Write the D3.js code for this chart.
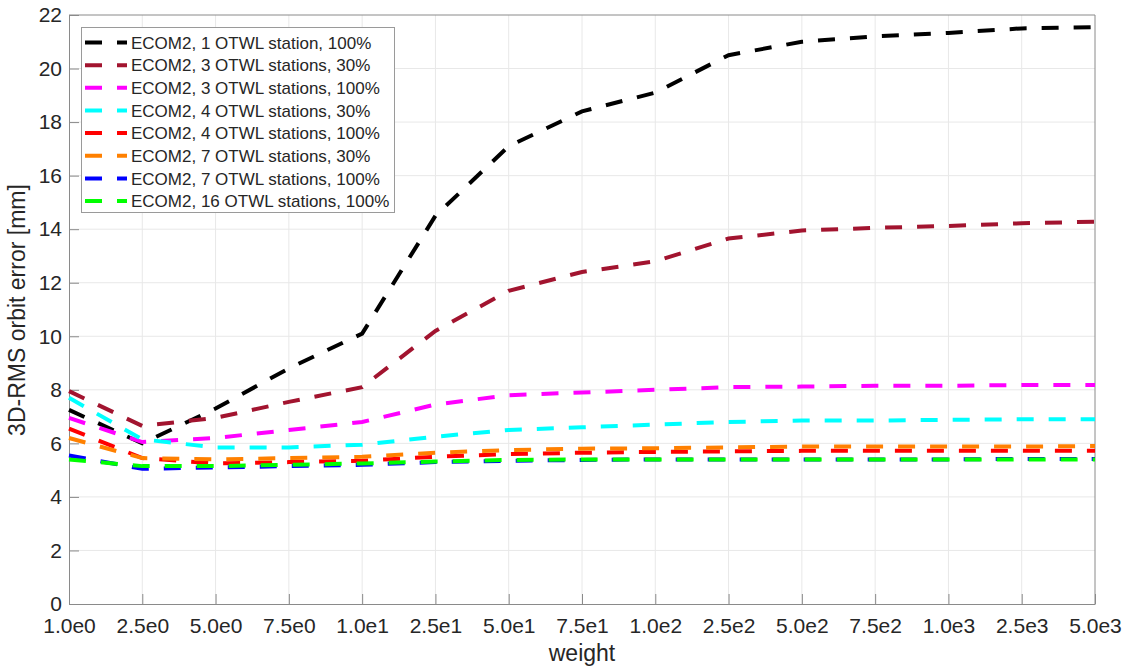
<!DOCTYPE html>
<html>
<head>
<meta charset="utf-8">
<script src="https://cdn.jsdelivr.net/npm/d3@7"></script>
<style>
  body { margin: 0; background: #fff; }
  svg { display: block; font-family: "Liberation Sans", Arial, sans-serif; }
</style>
</head>
<body>
<svg id="chart" width="1128" height="668"></svg>
<script>
// x categories (weights) and y ticks
var weights = ["1.0e0","2.5e0","5.0e0","7.5e0","1.0e1","2.5e1","5.0e1","7.5e1","1.0e2","2.5e2","5.0e2","7.5e2","1.0e3","2.5e3","5.0e3"];
var yTicks = [0,2,4,6,8,10,12,14,16,18,20,22];

// 3D-RMS orbit error [mm] per series
var st1_100  = [7.25,6.0,7.3,8.8,10.1,14.5,17.1,18.4,19.1,20.5,21.0,21.2,21.33,21.5,21.55];
var st3_30   = [7.95,6.65,6.95,7.55,8.1,10.2,11.7,12.4,12.8,13.65,13.95,14.05,14.12,14.22,14.28];
var st3_100  = [6.95,6.05,6.2,6.5,6.8,7.45,7.8,7.9,8.0,8.1,8.12,8.15,8.15,8.18,8.18];
var st4_30   = [7.7,6.15,5.85,5.85,5.95,6.25,6.5,6.6,6.7,6.8,6.85,6.85,6.88,6.9,6.9];
var st4_100  = [6.55,5.45,5.25,5.3,5.35,5.5,5.6,5.65,5.68,5.7,5.72,5.72,5.72,5.72,5.72];
var st7_30   = [6.2,5.45,5.4,5.45,5.5,5.65,5.75,5.8,5.82,5.85,5.88,5.88,5.88,5.88,5.9];
var st7_100  = [5.55,5.05,5.1,5.15,5.2,5.3,5.35,5.38,5.4,5.4,5.4,5.4,5.4,5.42,5.42];
var st16_100 = [5.4,5.15,5.15,5.2,5.25,5.32,5.38,5.4,5.4,5.4,5.4,5.4,5.4,5.4,5.4];

var seriesNames = [
  "ECOM2, 1 OTWL station, 100%",
  "ECOM2, 3 OTWL stations, 30%",
  "ECOM2, 3 OTWL stations, 100%",
  "ECOM2, 4 OTWL stations, 30%",
  "ECOM2, 4 OTWL stations, 100%",
  "ECOM2, 7 OTWL stations, 30%",
  "ECOM2, 7 OTWL stations, 100%",
  "ECOM2, 16 OTWL stations, 100%"
];
var seriesValues = [st1_100, st3_30, st3_100, st4_30, st4_100, st7_30, st7_100, st16_100];
var seriesColors = ["#000000","#a2142f","#ff00ff","#00ffff","#ff0000","#ff8000","#0000ff","#00ff00"];

var plotLeft = 69, plotRight = 1095, plotTop = 15, plotBottom = 604;
var svg = d3.select("#chart");

var x = d3.scalePoint().domain(weights).range([plotLeft, plotRight]);
var y = d3.scaleLinear().domain([0, 22]).range([plotBottom, plotTop]);

var tickColor = "#262626";
var axisColor = "#8a8a8a";
var gridColor = "#e8e8e8";

// grid
svg.append("g").selectAll("line")
  .data(weights.slice(1, -1)).enter().append("line")
  .attr("x1", function(d) { return x(d); }).attr("x2", function(d) { return x(d); })
  .attr("y1", plotTop).attr("y2", plotBottom)
  .attr("stroke", gridColor).attr("stroke-width", 1);
svg.append("g").selectAll("line")
  .data(yTicks.slice(1, -1)).enter().append("line")
  .attr("x1", plotLeft).attr("x2", plotRight)
  .attr("y1", function(d) { return y(d); }).attr("y2", function(d) { return y(d); })
  .attr("stroke", gridColor).attr("stroke-width", 1);

// axes (inward ticks, box)
var xAxis = d3.axisBottom(x).tickSizeInner(-10).tickSizeOuter(0).tickPadding(14);
var yAxis = d3.axisLeft(y).tickValues(yTicks).tickSizeInner(-10).tickSizeOuter(0).tickPadding(7);

var gx = svg.append("g").attr("transform", "translate(0," + plotBottom + ")").call(xAxis);
var gy = svg.append("g").attr("transform", "translate(" + plotLeft + ",0)").call(yAxis);
[gx, gy].forEach(function(g) {
  g.select(".domain").attr("stroke", axisColor);
  g.selectAll(".tick line").attr("stroke", axisColor);
  g.selectAll("text").attr("fill", tickColor).style("font-size", "21px")
    .style("font-family", "'Liberation Sans', Arial, sans-serif");
});

svg.append("line").attr("x1", plotLeft).attr("x2", plotRight).attr("y1", plotTop).attr("y2", plotTop)
  .attr("stroke", axisColor);
svg.append("line").attr("x1", plotRight).attr("x2", plotRight).attr("y1", plotTop).attr("y2", plotBottom)
  .attr("stroke", axisColor);

// axis labels
svg.append("text")
  .attr("x", (plotLeft + plotRight) / 2).attr("y", 661)
  .attr("text-anchor", "middle").attr("fill", tickColor)
  .style("font-size", "23px").text("weight");
svg.append("text")
  .attr("transform", "translate(25,310) rotate(-90)")
  .attr("text-anchor", "middle").attr("fill", tickColor)
  .style("font-size", "23px").text("3D-RMS orbit error [mm]");

// lines
var line = d3.line()
  .x(function(d, i) { return x(weights[i]); })
  .y(function(d) { return y(d); });

svg.append("g").selectAll("path")
  .data(seriesValues).enter().append("path")
  .attr("d", line)
  .attr("fill", "none")
  .attr("stroke", function(d, i) { return seriesColors[i]; })
  .attr("stroke-width", 4)
  .attr("stroke-dasharray", "17,15");

// legend
var legend = svg.append("g");
legend.append("rect")
  .attr("x", 81.5).attr("y", 27.5).attr("width", 313).attr("height", 185)
  .attr("fill", "#fff").attr("stroke", "#9a9a9a").attr("stroke-width", 1);

var rows = legend.selectAll("g")
  .data(seriesNames).enter().append("g")
  .attr("transform", function(d, i) { return "translate(0," + (42.5 + i * 22.65) + ")"; });
rows.append("line")
  .attr("x1", 85).attr("x2", 127).attr("y1", 0).attr("y2", 0)
  .attr("stroke", function(d, i) { return seriesColors[i]; })
  .attr("stroke-width", 4)
  .attr("stroke-dasharray", "17,15");
rows.append("text")
  .attr("x", 131).attr("y", 0).attr("dy", "0.36em")
  .attr("fill", tickColor)
  .style("font-size", "17px")
  .text(function(d) { return d; });
</script>
</body>
</html>
